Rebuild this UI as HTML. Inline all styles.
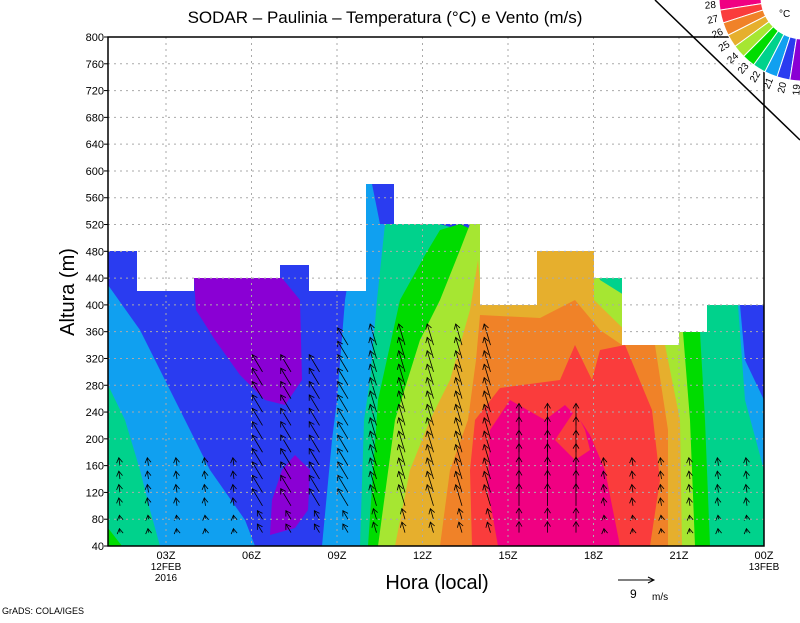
<!DOCTYPE html>
<html><head><meta charset="utf-8"><style>
body{margin:0;background:#fff}
svg text{font-family:"Liberation Sans",sans-serif}
</style></head><body>
<svg id="s" width="800" height="618" viewBox="0 0 800 618" xmlns="http://www.w3.org/2000/svg">
<defs><clipPath id="c"><rect x="108" y="37" width="656" height="509"/></clipPath></defs>
<g clip-path="url(#c)">
<rect x="108" y="37" width="656" height="509" fill="#2a3cf0"/>
<polygon fill="#10a0f0" points="108,285 140,330 175,400 210,470 245,520 255,546 108,546"/>
<polygon fill="#00d28c" points="108,385 125,420 140,470 150,510 160,546 108,546"/>
<polygon fill="#00dc00" points="108,528 122,546 108,546"/>
<polygon fill="#8a00d4" points="194,278 282,278 300,300 302,380 285,405 265,400 240,375 215,340 196,310"/>
<polygon fill="#8a00d4" points="282,470 295,455 310,470 308,510 295,528 270,535 272,500"/>
<polygon fill="#10a0f0" points="366,184 372,184 380,224 400,224 740,305 745,360 764,400 764,546 322,546 332,440 337,400 345,300 355,240"/>
<polygon fill="#00d28c" points="385,224 440,224 720,305 738,305 745,400 764,470 764,546 360,546 364,420 370,380 377,300"/>
<polygon fill="#00dc00" points="440,230 460,224 690,332 700,332 705,420 710,546 368,546 378,400 400,300 425,255"/>
<polygon fill="#a6e632" points="470,224 480,224 594,260 600,280 683,332 690,420 695,546 378,546 395,420 420,340 440,300 460,250"/>
<polygon fill="#e6af2d" points="478,260 482,305 537,251 594,251 594,300 640,345 665,345 680,420 682,546 395,546 410,470 430,420 450,380 470,310"/>
<polygon fill="#f08228" points="480,315 540,318 575,300 600,330 622,345 655,345 668,430 668,546 440,546 450,470 468,420 476,360"/>
<polygon fill="#fa3c3c" points="500,388 560,380 575,345 592,380 600,350 625,345 652,410 660,480 650,546 472,546 470,470 475,420"/>
<polygon fill="#f00082" points="490,430 510,400 545,420 565,405 580,420 590,435 605,470 620,546 498,546 488,490"/>
<polygon fill="#fa3c3c" points="555,440 575,410 585,430 590,450 575,460"/>
<polygon fill="#fff" points="108,37 764,37 764,305 707,305 707,332 679,332 679,345 622,345 622,278 594,278 594,251 537,251 537,305 480,305 480,224 394,224 394,184 366,184 366,291 309,291 309,265 280,265 280,278 194,278 194,291 137,291 137,251 108,251"/>
<g id="arr" stroke="#000" stroke-width="0.8" fill="none"></g>
</g>
<g stroke="#aaa" stroke-dasharray="2,4" stroke-width="1" id="grid"></g>
<rect x="108" y="37" width="656" height="509" fill="none" stroke="#000" stroke-width="1.5"/>
<g id="labels" font-size="11" fill="#000"></g>
<text x="385" y="23" font-size="17" text-anchor="middle">SODAR – Paulinia – Temperatura (°C) e Vento (m/s)</text>
<text x="437" y="589" font-size="20" text-anchor="middle">Hora (local)</text>
<text transform="translate(74,292) rotate(-90)" font-size="20" text-anchor="middle">Altura (m)</text>
<text x="166" y="570" font-size="10" text-anchor="middle">12FEB</text>
<text x="166" y="581" font-size="10" text-anchor="middle">2016</text>
<text x="764" y="570" font-size="10" text-anchor="middle">13FEB</text>
<text x="2" y="614" font-size="9">GrADS: COLA/IGES</text>
<line x1="618" y1="580" x2="654" y2="580" stroke="#000"/><polyline points="648,577 654,580 648,583" fill="none" stroke="#000"/>
<text x="630" y="598" font-size="12">9</text><text x="652" y="600" font-size="10">m/s</text>
<line x1="655" y1="0" x2="800" y2="140" stroke="#000" stroke-width="1.5"/>
<g id="leg"></g>
<text x="779" y="17" font-size="10">°C</text>
</svg>
<script>
var NS="http://www.w3.org/2000/svg";
function el(p,t,a,txt){var e=document.createElementNS(NS,t);for(var k in a)e.setAttribute(k,a[k]);if(txt)e.textContent=txt;document.getElementById(p).appendChild(e);}
function yh(h){return 546-(h-40)*509/760;}
for(var h=40;h<=800;h+=40){var y=yh(h);if(h>40&&h<800)el("grid","line",{x1:108,x2:764,y1:y,y2:y});el("labels","text",{x:104,y:y+4,"text-anchor":"end"},String(h));el("labels","line",{x1:104,x2:108,y1:y,y2:y,stroke:"#000"});}
var tk=["03Z","06Z","09Z","12Z","15Z","18Z","21Z","00Z"];
for(var i=0;i<8;i++){var x=166+i*85.5;if(i==7)x=764;if(i<7)el("grid","line",{x1:x,x2:x,y1:37,y2:546});el("labels","text",{x:x,y:559,"text-anchor":"middle"},tk[i]);}
for(var c=0;c<23;c++){
 var x=112+c*28.5+8;
 var hmax=160;
 if(x>250&&x<340)hmax=300;else if(x>=340&&x<500)hmax=340;else if(x>=500&&x<600)hmax=220;else if(x>=600)hmax=160;
 var len=8,dx=-0.15;
 if(x>250&&x<350){len=20;dx=-0.6;}else if(x>=350&&x<500){len=22;dx=-0.3;}else if(x>=500&&x<600){len=22;dx=0;}
 for(var h=60;h<=hmax;h+=20){
  var y=yh(h);var L=len*(h<100?0.5:1);var n=Math.sqrt(1+dx*dx);var ux=dx/n,uy=-1/n;
  var x2=x+ux*L,y2=y+uy*L;
  el("arr","line",{x1:x,y1:y,x2:x2,y2:y2});
  var px=-uy,py=ux;
  el("arr","polyline",{points:(x2-ux*5+px*3)+","+(y2-uy*5+py*3)+" "+x2+","+y2+" "+(x2-ux*5-px*3)+","+(y2-uy*5-py*3)});
 }
}
var cols=["#f00082","#fa3c3c","#f08228","#e6af2d","#a6e632","#00dc00","#00d28c","#10a0f0","#2a3cf0","#8a00d4"];
var labs=["28","27","26","25","24","23","22","21","20","19"];
var cx=803,cy=-3,r1=42,r2=84;
function pt(r,a){return [cx+r*Math.cos(a),cy+r*Math.sin(a)];}
for(var i=0;i<10;i++){
 var s=Math.PI-((i)*9)*Math.PI/180; var e=Math.PI-((i+1)*9)*Math.PI/180;
 var A=pt(r1,s),B=pt(r2,s),C=pt(r2,e),D=pt(r1,e);
 el("leg","path",{d:"M"+A+" L"+B+" A"+r2+" "+r2+" 0 0 0 "+C+" L"+D+" A"+r1+" "+r1+" 0 0 1 "+A,fill:cols[i],stroke:"#fff","stroke-width":1});
 var m=(s+e)/2,P=pt(r2+9,m);
 el("leg","text",{x:P[0],y:P[1]+4,"font-size":10,"text-anchor":"middle",transform:"rotate("+(m*180/Math.PI-180)+" "+P[0]+" "+P[1]+")"},labs[i]);
}
</script>
</body></html>
